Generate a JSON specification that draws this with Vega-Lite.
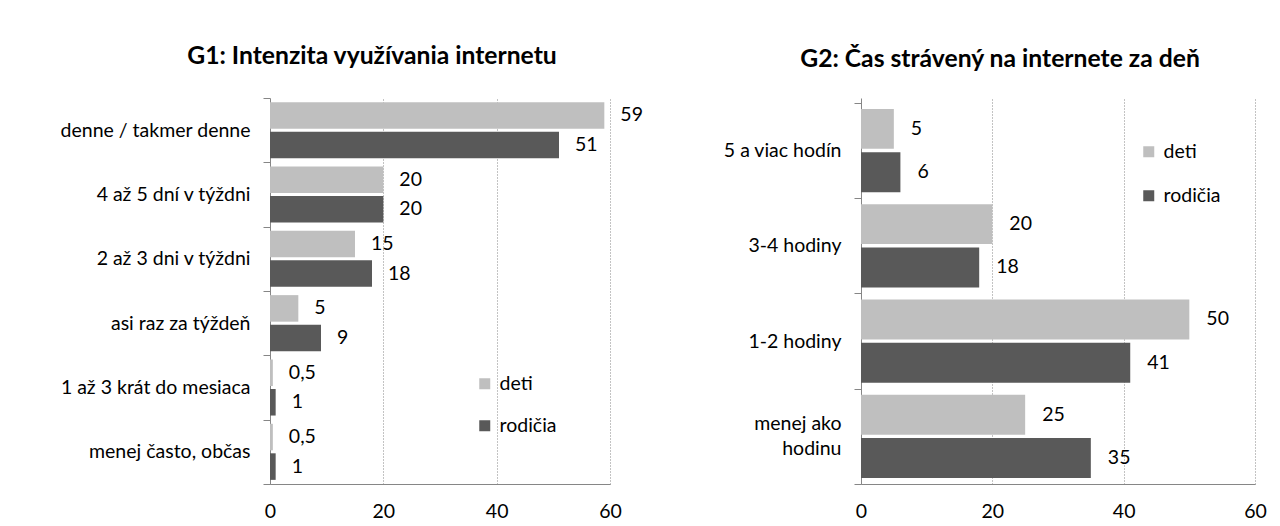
{
  "$schema": "https://vega.github.io/schema/vega-lite/v6.json",
  "padding": {"left": 5, "top": 44, "right": 0, "bottom": 0},
  "background": "white",
  "config": {
    "font": "Lato",
    "view": {"stroke": null},
    "locale": {"number": {"decimal": ",", "thousands": " ", "grouping": [3], "currency": ["", " €"]}},
    "axis": {"labelFont": "Lato", "labelColor": "#000000", "domainColor": "#868686", "tickColor": "#868686", "labelFontSize": 19.5, "labelLimit": 320},
    "legend": {"labelFont": "Lato", "labelColor": "#000000", "labelFontSize": 19.5},
    "title": {"font": "Lato", "color": "#000000"}
  },
  "datasets": {
    "g1": [
      {"kategoria": "denne / takmer denne", "skupina": "deti", "hodnota": 59},
      {"kategoria": "denne / takmer denne", "skupina": "rodičia", "hodnota": 51},
      {"kategoria": "4 až 5 dní v týždni", "skupina": "deti", "hodnota": 20},
      {"kategoria": "4 až 5 dní v týždni", "skupina": "rodičia", "hodnota": 20},
      {"kategoria": "2 až 3 dni v týždni", "skupina": "deti", "hodnota": 15},
      {"kategoria": "2 až 3 dni v týždni", "skupina": "rodičia", "hodnota": 18},
      {"kategoria": "asi raz za týždeň", "skupina": "deti", "hodnota": 5},
      {"kategoria": "asi raz za týždeň", "skupina": "rodičia", "hodnota": 9},
      {"kategoria": "1 až 3 krát do mesiaca", "skupina": "deti", "hodnota": 0.5},
      {"kategoria": "1 až 3 krát do mesiaca", "skupina": "rodičia", "hodnota": 1},
      {"kategoria": "menej často, občas", "skupina": "deti", "hodnota": 0.5},
      {"kategoria": "menej často, občas", "skupina": "rodičia", "hodnota": 1}
    ],
    "g2": [
      {"kategoria": "5 a viac hodín", "skupina": "deti", "hodnota": 5},
      {"kategoria": "5 a viac hodín", "skupina": "rodičia", "hodnota": 6},
      {"kategoria": "3-4 hodiny", "skupina": "deti", "hodnota": 20},
      {"kategoria": "3-4 hodiny", "skupina": "rodičia", "hodnota": 18},
      {"kategoria": "1-2 hodiny", "skupina": "deti", "hodnota": 50},
      {"kategoria": "1-2 hodiny", "skupina": "rodičia", "hodnota": 41},
      {"kategoria": "menej ako hodinu", "skupina": "deti", "hodnota": 25},
      {"kategoria": "menej ako hodinu", "skupina": "rodičia", "hodnota": 35}
    ]
  },
  "spacing": 18,
  "hconcat": [
    {
      "data": {"name": "g1"},
      "width": 340,
      "height": 386,
      "title": {"text": "G1: Intenzita využívania internetu", "fontSize": 24.7, "fontWeight": "bold", "anchor": "middle", "dx": -68, "offset": 19},
      "encoding": {
        "y": {"field": "kategoria", "type": "nominal", "sort": null, "title": null,
              "scale": {"paddingInner": 0, "paddingOuter": 0},
              "axis": {"tickBand": "extent", "tickSize": 7, "labelPadding": 13, "minExtent": 265, "maxExtent": 265, "domainColor": "#868686", "grid": false}},
        "x": {"field": "hodnota", "type": "quantitative", "title": null,
              "scale": {"domain": [0, 60], "nice": false},
              "axis": {"values": [0, 20, 40, 60], "ticks": false, "grid": true, "gridColor": "#868686", "gridDash": [1, 2], "gridWidth": 1, "labelPadding": 18, "labelFlush": false, "format": "d"}},
        "yOffset": {"field": "skupina", "sort": ["deti", "rodičia"], "scale": {"paddingInner": 0.1, "paddingOuter": 0.14}}
      },
      "layer": [
        {
          "mark": {"type": "bar"},
          "encoding": {
            "color": {"field": "skupina", "type": "nominal", "sort": ["deti", "rodičia"],
                      "scale": {"domain": ["deti", "rodičia"], "range": ["#BFBFBF", "#595959"]},
                      "legend": {"title": null, "orient": "none", "legendX": 205, "legendY": 276, "symbolType": "square", "symbolSize": 121, "symbolStrokeWidth": 0, "labelOffset": 5, "rowPadding": 21}}
          }
        },
        {
          "mark": {"type": "text", "align": "left", "baseline": "middle", "dx": 16, "fontSize": 19.5, "color": "#000000"},
          "encoding": {"text": {"field": "hodnota", "type": "quantitative", "format": "~g"}}
        }
      ]
    },
    {
      "data": {"name": "g2"},
      "width": 394,
      "height": 386,
      "title": {"text": "G2: Čas strávený na internete za deň", "fontSize": 24.7, "fontWeight": "bold", "anchor": "middle", "dx": -58, "offset": 16},
      "encoding": {
        "y": {"field": "kategoria", "type": "nominal", "sort": null, "title": null,
              "scale": {"paddingInner": 0, "paddingOuter": 0.026, "align": 1},
              "axis": {"tickBand": "extent", "tickSize": 7, "labelPadding": 13, "minExtent": 200, "maxExtent": 200, "domainColor": "#868686", "grid": false,
                       "labelExpr": "datum.value == 'menej ako hodinu' ? ['menej ako', 'hodinu'] : datum.value", "labelLineHeight": 25,
                       "labelOffset": {"condition": {"test": "datum.value == 'menej ako hodinu'", "value": -13}, "value": 0}}},
        "x": {"field": "hodnota", "type": "quantitative", "title": null,
              "scale": {"domain": [0, 60], "nice": false},
              "axis": {"values": [0, 20, 40, 60], "ticks": false, "grid": true, "gridColor": "#868686", "gridDash": [1, 2], "gridWidth": 1, "labelPadding": 18, "labelFlush": false, "format": "d"}},
        "yOffset": {"field": "skupina", "sort": ["deti", "rodičia"], "scale": {"paddingInner": 0.08, "paddingOuter": 0.14}}
      },
      "layer": [
        {
          "mark": {"type": "bar"},
          "encoding": {
            "color": {"field": "skupina", "type": "nominal", "sort": ["deti", "rodičia"],
                      "scale": {"domain": ["deti", "rodičia"], "range": ["#BFBFBF", "#595959"]},
                      "legend": {"title": null, "orient": "none", "legendX": 278, "legendY": 44, "symbolType": "square", "symbolSize": 121, "symbolStrokeWidth": 0, "labelOffset": 5, "rowPadding": 23}}
          }
        },
        {
          "mark": {"type": "text", "align": "left", "baseline": "middle", "dx": 17, "fontSize": 19.5, "color": "#000000"},
          "encoding": {"text": {"field": "hodnota", "type": "quantitative", "format": "~g"}}
        }
      ]
    }
  ],
  "resolve": {"scale": {"color": "independent", "yOffset": "independent", "y": "independent", "x": "independent"}}
}
